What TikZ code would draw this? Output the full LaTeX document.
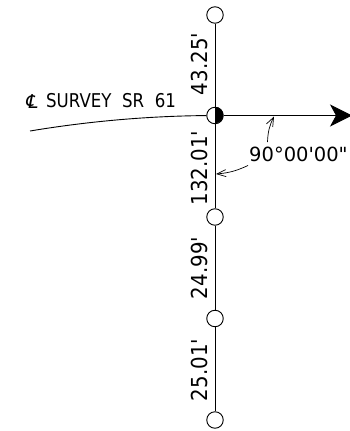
\documentclass[tikz,border=0pt]{standalone}
\usepackage{fontspec}
\setmainfont{DejaVu Sans}[Ligatures=TeXOff]
\usetikzlibrary{arrows.meta}

\tikzset{
  station/.style={circle,draw,fill=white,line width=0.9pt,minimum size=16.5pt,inner sep=0pt},
  dimtext/.style={rotate=90,xscale=0.9,font=\fontsize{22}{22}\selectfont,inner sep=0pt},
  leader/.style={line width=0.7pt,-{Straight Barb[length=9pt,width=7pt]}}
}

\begin{document}
\begin{tikzpicture}[x=1pt,y=-1pt]
  \useasboundingbox (0,0) rectangle (350,431);

  \coordinate (tip) at (352,115.5);
  \coordinate (curvestart) at (30,131);
  \coordinate (ontangent) at (274,116.5);
  \coordinate (onstem) at (216,174);
  \coordinate (fromtop) at (267.5,142);
  \coordinate (fromleft) at (248,165.5);

  \node[station] (top) at (215,15) {};
  \node[station] (pi) at (215,115.5) {};
  \node[station] (mid) at (215,217) {};
  \node[station] (low) at (215,318.5) {};
  \node[station] (end) at (215,420) {};

  \draw[line width=0.9pt] (top) -- (pi) -- (mid) -- (low) -- (end);
  \draw[line width=0.9pt] (curvestart) .. controls (90,121) and (150,116) .. (pi);
  \draw[line width=0.9pt,-{Stealth[length=22pt,width=22pt,inset=6pt]}] (pi) -- (tip);
  \fill (pi.north) arc[start angle=90,end angle=-90,radius=8.25pt] -- cycle;

  \node[dimtext] (d1) at (199,64) {43.25'};
  \node[dimtext] (d2) at (199,168) {132.01'};
  \node[dimtext] (d3) at (199,268) {24.99'};
  \node[dimtext] (d4) at (199,370) {25.01'};

  \node[xscale=0.875,font=\fontsize{19}{20}\selectfont,inner sep=0pt,anchor=west] (survey) at (46,100.5) {SURVEY\hspace{6pt} SR\hspace{6pt} 61};
  \node[xslant=0.2,font=\fontsize{19}{20}\selectfont,inner sep=0pt] (cl) at (32.5,101.5) {℄};
  \node[font=\fontsize{19.5}{20}\selectfont,inner sep=0pt,anchor=west] (angle) at (249,154) {90°00'00"};

  \draw[leader] (fromtop) to[bend left=12] (ontangent);
  \draw[leader] (fromleft) to[bend left=10] (onstem);
\end{tikzpicture}
\end{document}
